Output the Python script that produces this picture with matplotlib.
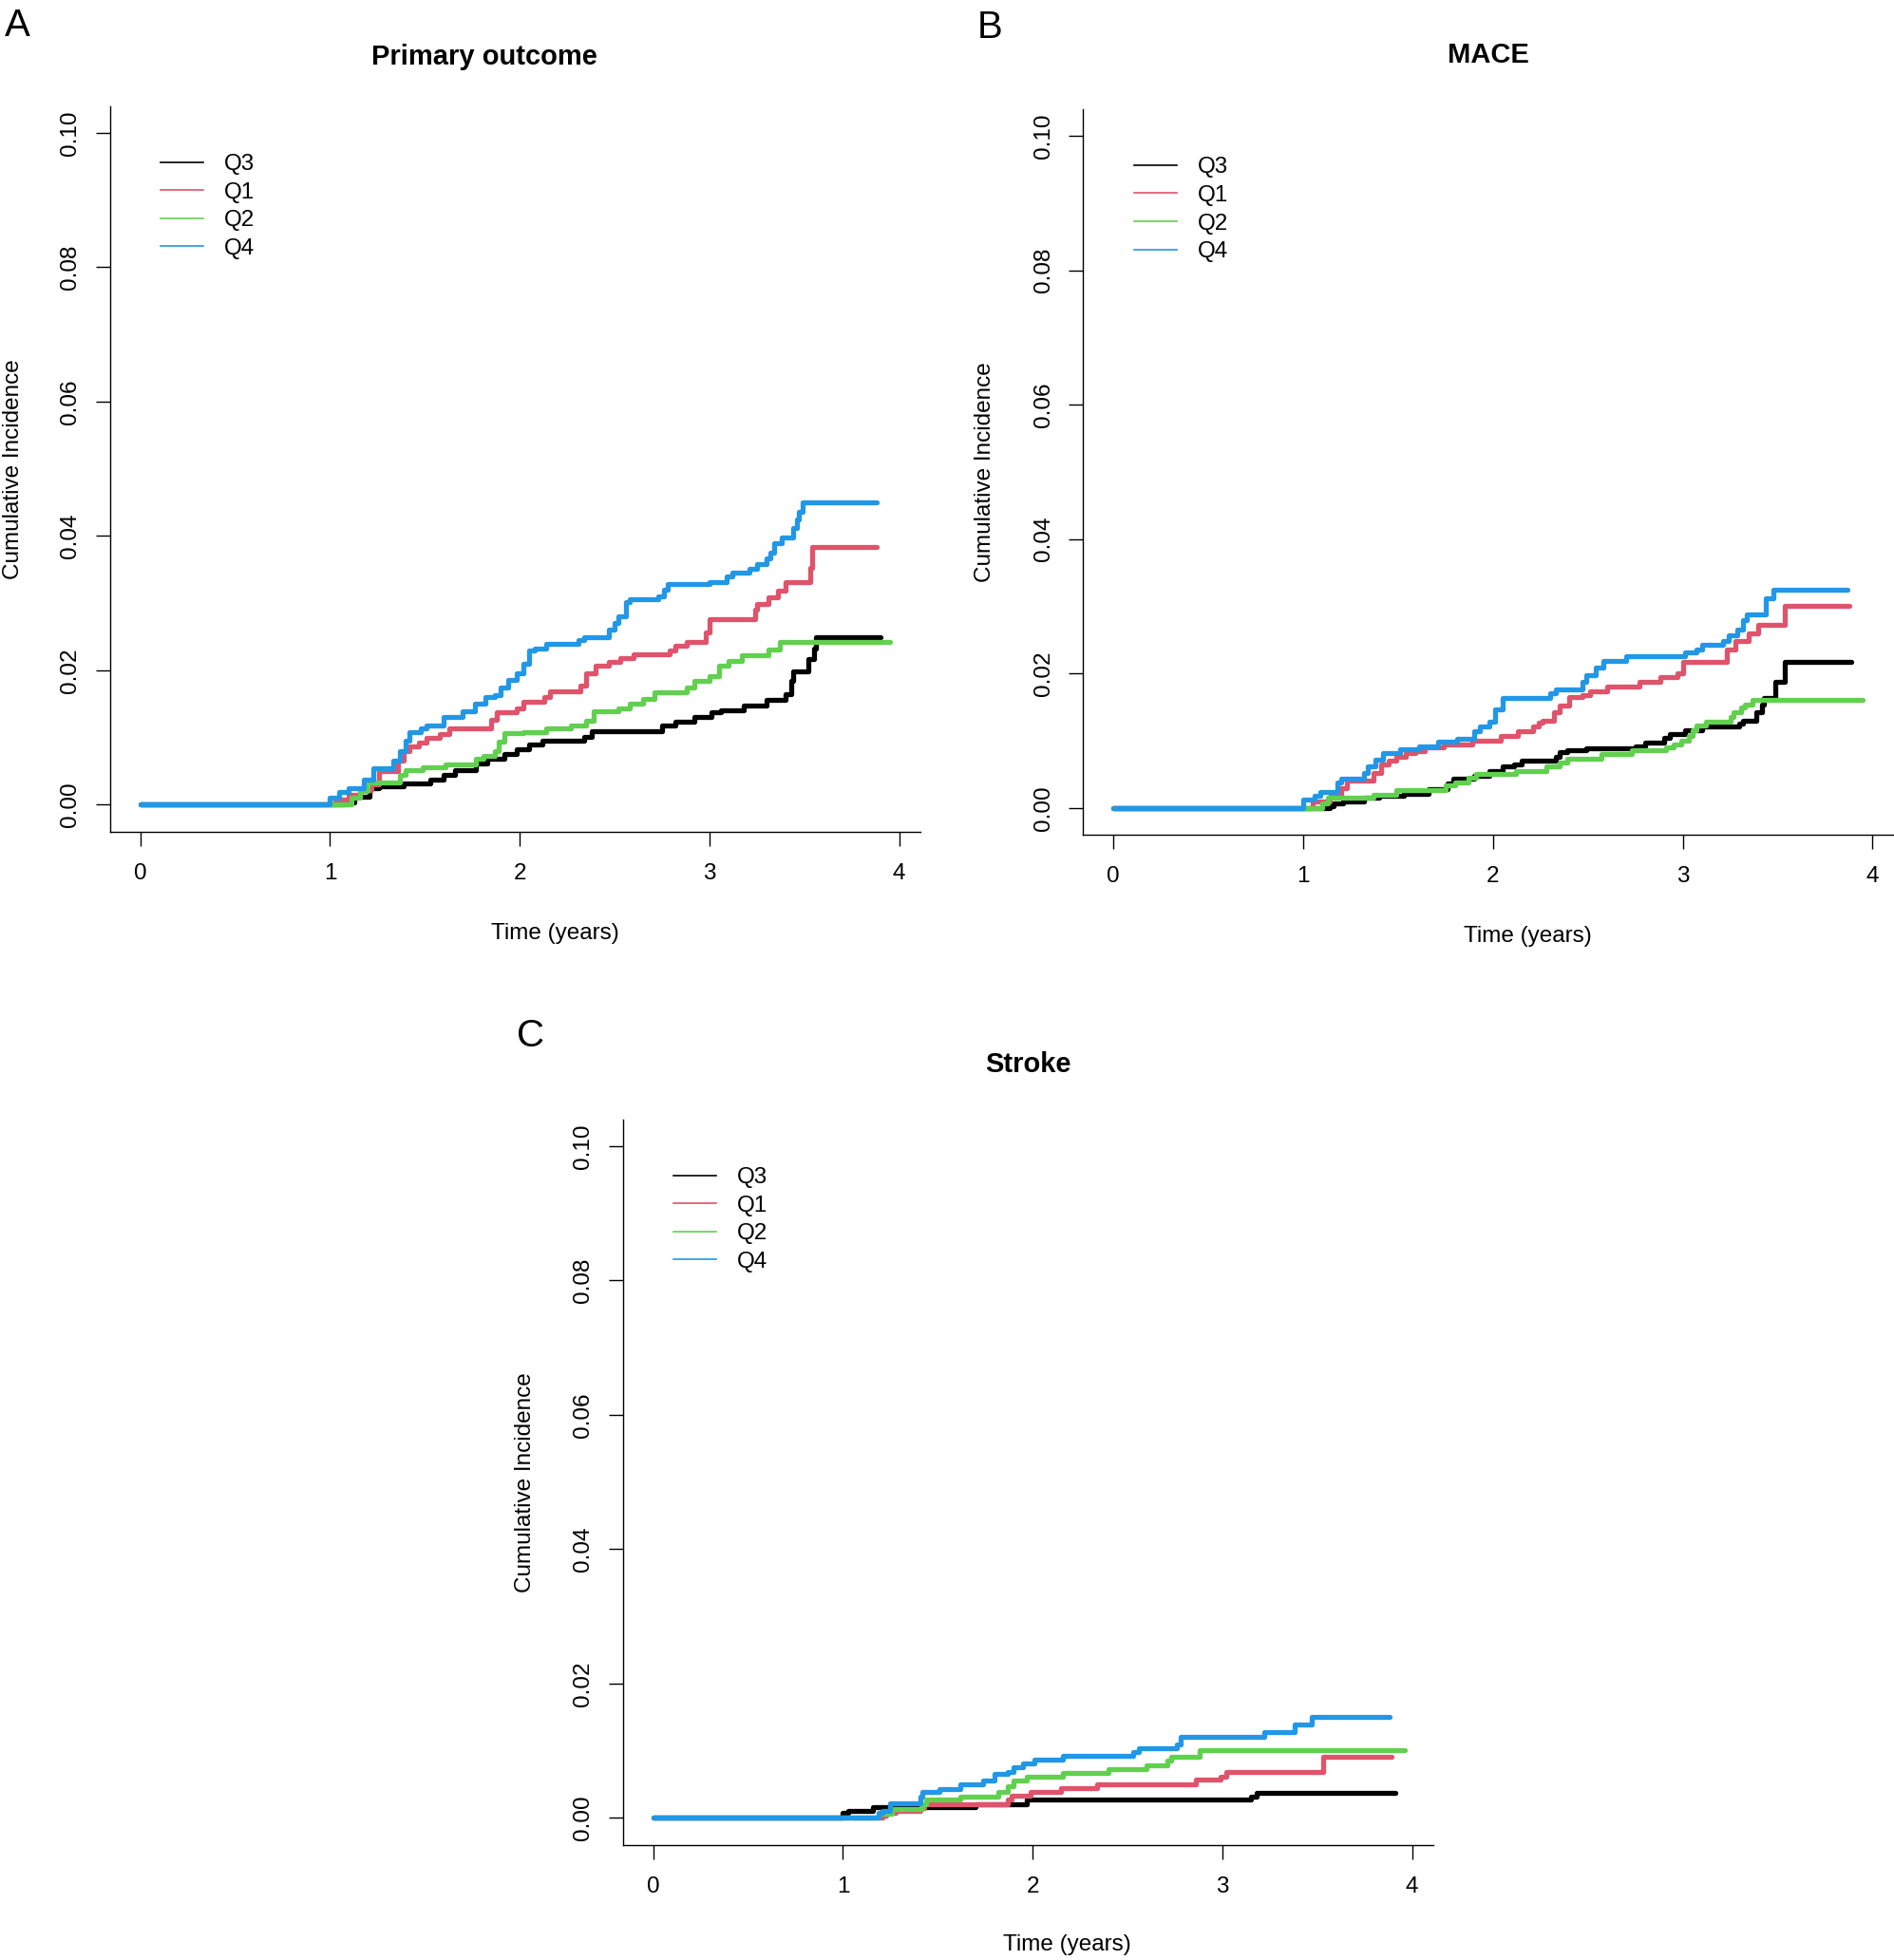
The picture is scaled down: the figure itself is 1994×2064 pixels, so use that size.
import matplotlib.pyplot as plt
from matplotlib.lines import Line2D

plt.rcParams['font.family'] = ['Liberation Sans', 'DejaVu Sans']

W, H = 1994, 2064

groups = ['Q3', 'Q1', 'Q2', 'Q4']
colors = ['#000000', '#DF536B', '#61D04F', '#2297E6']
x_ticks = [0, 1, 2, 3, 4]
y_ticks = [0.00, 0.02, 0.04, 0.06, 0.08, 0.10]

# ---- A: primary outcome ----
a_q3_t = [0, 1.08, 1.13, 1.21, 1.26, 1.39, 1.53, 1.60, 1.66, 1.77, 1.83, 1.92, 1.985, 2.05, 2.12, 2.34, 2.38,
          2.75, 2.82, 2.92, 3.01, 3.06, 3.18, 3.30, 3.40, 3.43, 3.44, 3.52, 3.55, 3.56, 3.90]
a_q3_v = [0, 0.0004, 0.0012, 0.0024, 0.0027, 0.0031, 0.0038, 0.0045, 0.0052, 0.0061, 0.0068, 0.0075, 0.0082,
          0.0090, 0.0095, 0.0101, 0.0110, 0.0118, 0.0123, 0.0130, 0.0137, 0.0141, 0.0148, 0.0156, 0.0165, 0.0184,
          0.0198, 0.0217, 0.0233, 0.0249, 0.0249]
a_q1_t = [0, 1.03, 1.10, 1.16, 1.22, 1.26, 1.36, 1.39, 1.42, 1.47, 1.51, 1.58, 1.63, 1.85, 1.88, 1.985, 2.02,
          2.13, 2.16, 2.32, 2.35, 2.40, 2.47, 2.53, 2.60, 2.79, 2.82, 2.88, 2.98, 3.00, 3.24, 3.25, 3.31, 3.36,
          3.40, 3.53, 3.54, 3.88]
a_q1_v = [0, 0.0008, 0.0015, 0.0022, 0.0030, 0.0050, 0.0066, 0.0080, 0.0087, 0.0092, 0.0099, 0.0105, 0.0113,
          0.0127, 0.0137, 0.0144, 0.0153, 0.0160, 0.0169, 0.0177, 0.0196, 0.0207, 0.0212, 0.0218, 0.0224, 0.0230,
          0.0236, 0.0243, 0.0257, 0.0276, 0.0290, 0.0299, 0.0309, 0.0318, 0.0332, 0.0353, 0.0384, 0.0384]
a_q2_t = [0, 1.115, 1.16, 1.20, 1.37, 1.40, 1.49, 1.61, 1.77, 1.81, 1.87, 1.89, 1.92, 2.02, 2.14, 2.27, 2.35,
          2.39, 2.52, 2.58, 2.65, 2.71, 2.88, 2.92, 3.00, 3.05, 3.10, 3.17, 3.31, 3.37, 3.95]
a_q2_v = [0, 0.0010, 0.0020, 0.0033, 0.0045, 0.0052, 0.0055, 0.0060, 0.0068, 0.0073, 0.0080, 0.0094, 0.0106,
          0.0108, 0.0113, 0.0118, 0.0125, 0.0139, 0.0144, 0.0151, 0.0158, 0.0167, 0.0174, 0.0184, 0.0191, 0.0207,
          0.0214, 0.0222, 0.0231, 0.0243, 0.0243]
a_q4_t = [0, 1.00, 1.05, 1.10, 1.18, 1.23, 1.335, 1.37, 1.40, 1.42, 1.48, 1.51, 1.60, 1.70, 1.765, 1.82, 1.87,
          1.90, 1.94, 1.985, 2.02, 2.05, 2.08, 2.14, 2.31, 2.34, 2.47, 2.50, 2.52, 2.56, 2.58, 2.73, 2.76, 2.78,
          3.00, 3.09, 3.12, 3.21, 3.25, 3.30, 3.32, 3.34, 3.38, 3.44, 3.46, 3.47, 3.49, 3.88]
a_q4_v = [0, 0.0010, 0.0019, 0.0025, 0.0038, 0.0054, 0.0066, 0.0080, 0.0095, 0.0108, 0.0113, 0.0118, 0.0130,
          0.0139, 0.0151, 0.0160, 0.0163, 0.0175, 0.0186, 0.0195, 0.0210, 0.0230, 0.0233, 0.0240, 0.0245, 0.0250,
          0.0260, 0.0271, 0.0280, 0.0302, 0.0306, 0.0310, 0.0320, 0.0328, 0.0332, 0.0340, 0.0346, 0.0351, 0.0358,
          0.0366, 0.0375, 0.0390, 0.0398, 0.0412, 0.0424, 0.0436, 0.0450, 0.0450]

# ---- B: MACE ----
b_q3_t = [0, 1.14, 1.16, 1.21, 1.32, 1.40, 1.53, 1.66, 1.76, 1.79, 1.90, 1.98, 2.05, 2.11, 2.15, 2.33, 2.35,
          2.39, 2.49, 2.75, 2.80, 2.90, 2.93, 3.01, 3.10, 3.30, 3.32, 3.39, 3.42, 3.43, 3.49, 3.54, 3.89]
b_q3_v = [0, 0.0002, 0.0007, 0.0010, 0.0015, 0.0018, 0.0021, 0.0028, 0.0036, 0.0043, 0.0047, 0.0055, 0.0062,
          0.0065, 0.0070, 0.0076, 0.0083, 0.0086, 0.0089, 0.0092, 0.0097, 0.0104, 0.0110, 0.0116, 0.0121, 0.0126,
          0.0130, 0.0142, 0.0154, 0.0164, 0.0187, 0.0217, 0.0217]
b_q1_t = [0, 1.05, 1.14, 1.20, 1.23, 1.37, 1.41, 1.45, 1.49, 1.54, 1.59, 1.64, 1.74, 1.89, 2.04, 2.13, 2.21,
          2.24, 2.26, 2.32, 2.35, 2.40, 2.47, 2.51, 2.60, 2.77, 2.88, 2.97, 3.00, 3.23, 3.28, 3.35, 3.40, 3.54, 3.88]
b_q1_v = [0, 0.0010, 0.0017, 0.0029, 0.0040, 0.0052, 0.0064, 0.0070, 0.0076, 0.0082, 0.0085, 0.0090, 0.0094,
          0.0100, 0.0107, 0.0114, 0.0121, 0.0127, 0.0130, 0.0142, 0.0152, 0.0165, 0.0168, 0.0174, 0.0181, 0.0187,
          0.0194, 0.0200, 0.0217, 0.0235, 0.0249, 0.0260, 0.0273, 0.0301, 0.0301]
b_q2_t = [0, 1.10, 1.13, 1.37, 1.49, 1.75, 1.80, 1.87, 1.91, 2.12, 2.28, 2.35, 2.39, 2.57, 2.73, 2.91, 2.95,
          2.99, 3.03, 3.05, 3.07, 3.12, 3.25, 3.27, 3.31, 3.33, 3.37, 3.95]
b_q2_v = [0, 0.0007, 0.0015, 0.0019, 0.0026, 0.0033, 0.0038, 0.0045, 0.0050, 0.0055, 0.0062, 0.0067, 0.0073,
          0.0080, 0.0086, 0.0090, 0.0095, 0.0100, 0.0107, 0.0116, 0.0123, 0.0128, 0.0135, 0.0142, 0.0149, 0.0154,
          0.0161, 0.0161]
b_q4_t = [0, 1.00, 1.06, 1.09, 1.18, 1.20, 1.32, 1.34, 1.38, 1.42, 1.51, 1.61, 1.71, 1.81, 1.90, 1.93, 1.98,
          2.01, 2.05, 2.30, 2.33, 2.47, 2.49, 2.54, 2.58, 2.70, 3.01, 3.07, 3.10, 3.21, 3.24, 3.29, 3.32, 3.34,
          3.44, 3.48, 3.87]
b_q4_v = [0, 0.0012, 0.0018, 0.0023, 0.0038, 0.0044, 0.0052, 0.0062, 0.0071, 0.0082, 0.0087, 0.0092, 0.0098,
          0.0103, 0.0114, 0.0121, 0.0128, 0.0147, 0.0164, 0.0171, 0.0176, 0.0187, 0.0197, 0.0209, 0.0219, 0.0226,
          0.0231, 0.0236, 0.0243, 0.0249, 0.0257, 0.0266, 0.0279, 0.0288, 0.0312, 0.0325, 0.0325]

# ---- C: stroke ----
c_q3_t = [0, 1.00, 1.03, 1.16, 1.70, 1.97, 3.15, 3.18, 3.91]
c_q3_v = [0, 0.0007, 0.0011, 0.0016, 0.0021, 0.0027, 0.0032, 0.0038, 0.0038]
c_q1_t = [0, 1.21, 1.23, 1.28, 1.41, 1.43, 1.87, 1.89, 1.99, 2.15, 2.34, 2.86, 2.99, 3.02, 3.53, 3.89]
c_q1_v = [0, 0.0003, 0.0007, 0.0010, 0.0015, 0.0020, 0.0027, 0.0033, 0.0039, 0.0044, 0.0050, 0.0057, 0.0062,
          0.0068, 0.0091, 0.0091]
c_q2_t = [0, 1.19, 1.26, 1.42, 1.44, 1.62, 1.82, 1.87, 1.90, 1.97, 2.16, 2.40, 2.60, 2.71, 2.73, 2.88, 3.96]
c_q2_v = [0, 0.0006, 0.0013, 0.0020, 0.0027, 0.0032, 0.0039, 0.0047, 0.0055, 0.0061, 0.0067, 0.0073, 0.0079,
          0.0085, 0.0091, 0.0101, 0.0101]
c_q4_t = [0, 1.19, 1.21, 1.25, 1.41, 1.42, 1.51, 1.62, 1.74, 1.80, 1.87, 1.90, 1.95, 2.01, 2.16, 2.53, 2.56,
          2.76, 2.78, 3.22, 3.38, 3.47, 3.88]
c_q4_v = [0, 0.0008, 0.0011, 0.0022, 0.0032, 0.0039, 0.0043, 0.0050, 0.0055, 0.0065, 0.0069, 0.0076, 0.0081,
          0.0087, 0.0093, 0.0098, 0.0104, 0.0110, 0.0121, 0.0128, 0.0139, 0.0151, 0.0151]

# letter, title, axes left/top (px), title pos, letter pos, ylabel pos, xlabel pos, series
panels = [
    ('A', 'Primary outcome', (115.7, 111.7), (510, 60), (5, 26.5), (14, 493.7), (584, 983),
     [(a_q3_t, a_q3_v), (a_q1_t, a_q1_v), (a_q2_t, a_q2_v), (a_q4_t, a_q4_v)]),
    ('B', 'MACE', (1140.3, 115), (1567, 57.7), (1029, 29.5), (1037, 497), (1608, 986),
     [(b_q3_t, b_q3_v), (b_q1_t, b_q1_v), (b_q2_t, b_q2_v), (b_q4_t, b_q4_v)]),
    ('C', 'Stroke', (655.7, 1178.7), (1082, 1121), (544, 1091.5), (553, 1560.7), (1123, 2048),
     [(c_q3_t, c_q3_v), (c_q1_t, c_q1_v), (c_q2_t, c_q2_v), (c_q4_t, c_q4_v)]),
]

fig = plt.figure(figsize=(W / 100, H / 100), dpi=100)
aw, ah = 853, 764
fs = 17.5


def fx(x):
    return x / W


def fy(y):
    return 1 - y / H


for letter, title, (left, top), tpos, lpos, ypos, xpos, series in panels:
    ax = fig.add_axes([fx(left), fy(top + ah), aw / W, ah / H])
    for (t, v), col in zip(series, colors):
        ax.step(t, v, where='post', color=col, lw=3.8,
                solid_joinstyle='round', solid_capstyle='round')
    ax.set_xlim(-0.16, 4.11)
    ax.set_ylim(-0.004, 0.104)
    ax.set_xticks(x_ticks)
    ax.set_yticks(y_ticks)
    ax.set_yticklabels(['%.2f' % y for y in y_ticks], rotation=90, va='center')
    for s in ['top', 'right']:
        ax.spines[s].set_visible(False)
    for s in ['left', 'bottom']:
        ax.spines[s].set_linewidth(1.0)
    ax.tick_params(direction='out', length=10.8, width=1.0, labelsize=fs)
    ax.tick_params(axis='x', pad=13)
    ax.tick_params(axis='y', pad=11)

    handles = [Line2D([], [], color=c, lw=1.2) for c in colors]
    ax.legend(handles, groups, loc='upper left', bbox_to_anchor=(0.0628, 0.934),
              frameon=False, fontsize=fs, borderpad=0, borderaxespad=0,
              labelspacing=0.31, handlelength=1.85, handletextpad=0.9)

    fig.text(fx(lpos[0]), fy(lpos[1]), letter, fontsize=29, ha='left', va='center')
    fig.text(fx(tpos[0]), fy(tpos[1]), title, fontsize=21, fontweight='bold',
             ha='center', va='center')
    fig.text(fx(ypos[0]), fy(ypos[1]), 'Cumulative Incidence', fontsize=fs,
             rotation=90, ha='center', va='center')
    fig.text(fx(xpos[0]), fy(xpos[1]), 'Time (years)', fontsize=fs,
             ha='center', va='center')

fig.savefig('out.png', dpi=100)
